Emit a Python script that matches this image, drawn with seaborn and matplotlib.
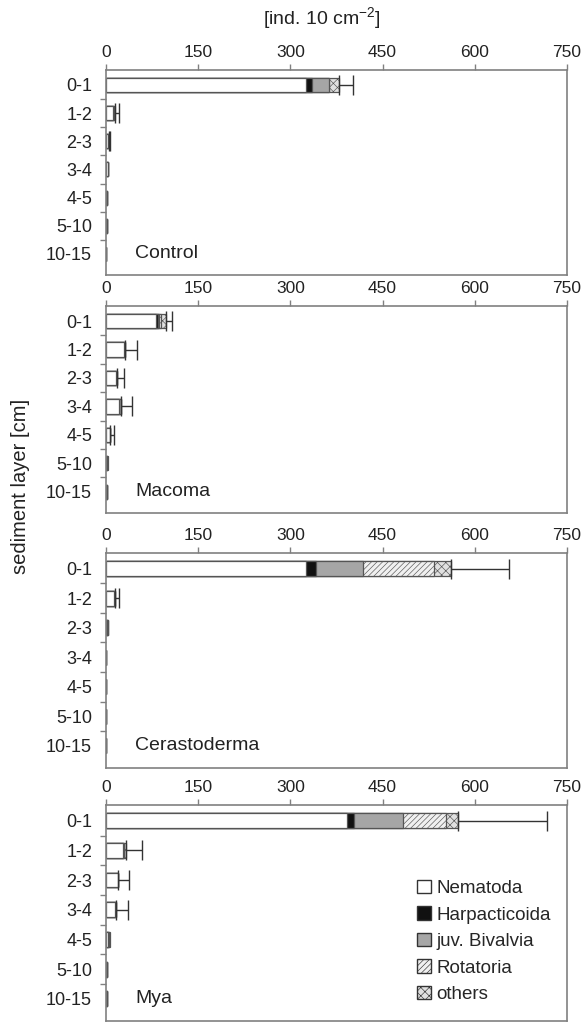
import numpy as np
import pandas as pd
import seaborn as sns
import matplotlib.pyplot as plt
from matplotlib.patches import Patch

sns.set_style('white')
plt.rcParams['font.family'] = ['Liberation Sans', 'DejaVu Sans']
plt.rcParams['hatch.linewidth'] = 0.45

# sediment layers and taxa
layers = ['0-1', '1-2', '2-3', '3-4', '4-5', '5-10', '10-15']
taxa = ['Nematoda', 'Harpacticoida', 'juv. Bivalvia', 'Rotatoria', 'others']
treatments = ['Control', 'Macoma', 'Cerastoderma', 'Mya']

# abundances [ind. 10 cm-2]
control_nem = [326, 11, 4, 3, 1.5, 1, 0]
control_harp = [9.5, 0.5, 0, 0.5, 0, 0, 0]
control_biv = [27.5, 1, 0.5, 0.5, 0, 0, 0]
control_rot = [0, 0, 0, 0, 0, 0, 0]
control_oth = [15.5, 2, 1, 0, 0, 0, 0]
control_err = [23.5, 6, 1, 0, 0, 0, 0]

macoma_nem = [81, 30, 17, 21, 6, 2, 1.5]
macoma_harp = [3, 0, 0, 0, 0, 0, 0]
macoma_biv = [2, 0.5, 1, 3, 0.5, 0, 0]
macoma_rot = [4, 0, 0, 0, 0, 0, 0]
macoma_oth = [7, 0, 0, 0, 0.5, 0.5, 0]
macoma_err = [11, 20.5, 11, 18, 6, 0, 0]

cerasto_nem = [325, 13, 2, 0, 0, 0, 0]
cerasto_harp = [16, 0, 0, 0, 0, 0, 0]
cerasto_biv = [77, 1, 0.5, 0, 0, 0, 0]
cerasto_rot = [116, 0, 0, 0, 0, 0, 0]
cerasto_oth = [27, 1, 0, 0, 0, 0, 0]
cerasto_err = [95, 6, 0, 0, 0, 0, 0]

mya_nem = [392, 27, 19, 15, 3, 1, 1.5]
mya_harp = [12, 0, 0, 0, 0, 0, 0]
mya_biv = [80, 3, 1, 1, 2, 0, 0]
mya_rot = [70, 0, 0, 0, 0, 0, 0]
mya_oth = [19, 3, 0, 0, 1, 0, 0]
mya_err = [145, 25, 17, 20, 0, 0, 0]

data = {
    'Control': [control_nem, control_harp, control_biv, control_rot, control_oth, control_err],
    'Macoma': [macoma_nem, macoma_harp, macoma_biv, macoma_rot, macoma_oth, macoma_err],
    'Cerastoderma': [cerasto_nem, cerasto_harp, cerasto_biv, cerasto_rot, cerasto_oth, cerasto_err],
    'Mya': [mya_nem, mya_harp, mya_biv, mya_rot, mya_oth, mya_err],
}

faces = ['white', '#111111', '#a6a6a6', '#f0f0f0', '#e0e0e0']
hatches = [None, None, None, '//////', 'xxxx']
edge = '#555555'
spine_col = '#808080'

fig = plt.figure(figsize=(5.83, 10.24), dpi=100)
# panel positions (left, bottom, width, height)
boxes = [(0.1818, 0.7314, 0.7907, 0.2002),
         (0.1818, 0.4990, 0.7907, 0.2021),
         (0.1818, 0.2500, 0.7907, 0.2100),
         (0.1818, 0.0029, 0.7907, 0.2110)]

for name, box in zip(treatments, boxes):
    ax = fig.add_axes(box)
    vals = np.array(data[name][:5], dtype=float)
    err = np.array(data[name][5], dtype=float)
    cum = np.cumsum(vals, axis=0)
    # draw from the total down so each segment sits on top of the next
    for i in range(4, -1, -1):
        df = pd.DataFrame({'layer': layers, 'value': cum[i]})
        sns.barplot(data=df, x='value', y='layer', orient='h', color=faces[i],
                    saturation=1, width=0.5, edgecolor=edge, linewidth=0.9,
                    hatch=hatches[i], errorbar=None, ax=ax)
    total = cum[4]
    ypos = np.arange(len(layers))
    m = err > 0
    ax.errorbar(total[m], ypos[m], xerr=[np.zeros(m.sum()), err[m]], fmt='none',
                ecolor='#333333', elinewidth=1, capsize=7, capthick=1)

    ax.set_xlim(0, 750)
    ax.set_ylim(6.75, -0.53)
    ax.set_xlabel('')
    ax.set_ylabel('')
    ax.xaxis.tick_top()
    ax.set_xticks([0, 150, 300, 450, 600, 750])
    ax.tick_params(axis='x', which='major', direction='out', length=4, width=1,
                   color=spine_col, labelsize=12.5, labelcolor='#222222', pad=3)
    ax.set_yticks(ypos)
    ax.set_yticklabels(layers)
    ax.set_yticks(np.arange(0.5, 6, 1), minor=True)
    ax.tick_params(axis='y', which='major', length=0, labelsize=13,
                   labelcolor='#222222', pad=10)
    ax.tick_params(axis='y', which='minor', direction='out', length=4, width=1,
                   color=spine_col, left=True)
    for s in ax.spines.values():
        s.set_color(spine_col)
        s.set_linewidth(1.2)
        s.set_visible(True)
    ax.text(47, 6, name, fontsize=14, va='center', ha='left', color='#222222')

    if name == 'Mya':
        handles = [Patch(facecolor=faces[i], edgecolor='#333333', hatch=hatches[i])
                   for i in range(5)]
        ax.legend(handles, taxa, loc='lower right', bbox_to_anchor=(0.985, 0.04),
                  frameon=False, fontsize=13.5, handlelength=0.7, handleheight=0.7,
                  handletextpad=0.3, labelspacing=0.5, borderpad=0)

fig.text(0.552, 0.982, '[ind. 10 cm$^{\\mathregular{-2}}$]', ha='center', va='center',
         fontsize=14, color='#222222')
fig.text(0.035, 0.525, 'sediment layer [cm]', rotation=90, ha='center',
         va='center', fontsize=14.5, color='#222222')

plt.savefig('out.png', dpi=100)
